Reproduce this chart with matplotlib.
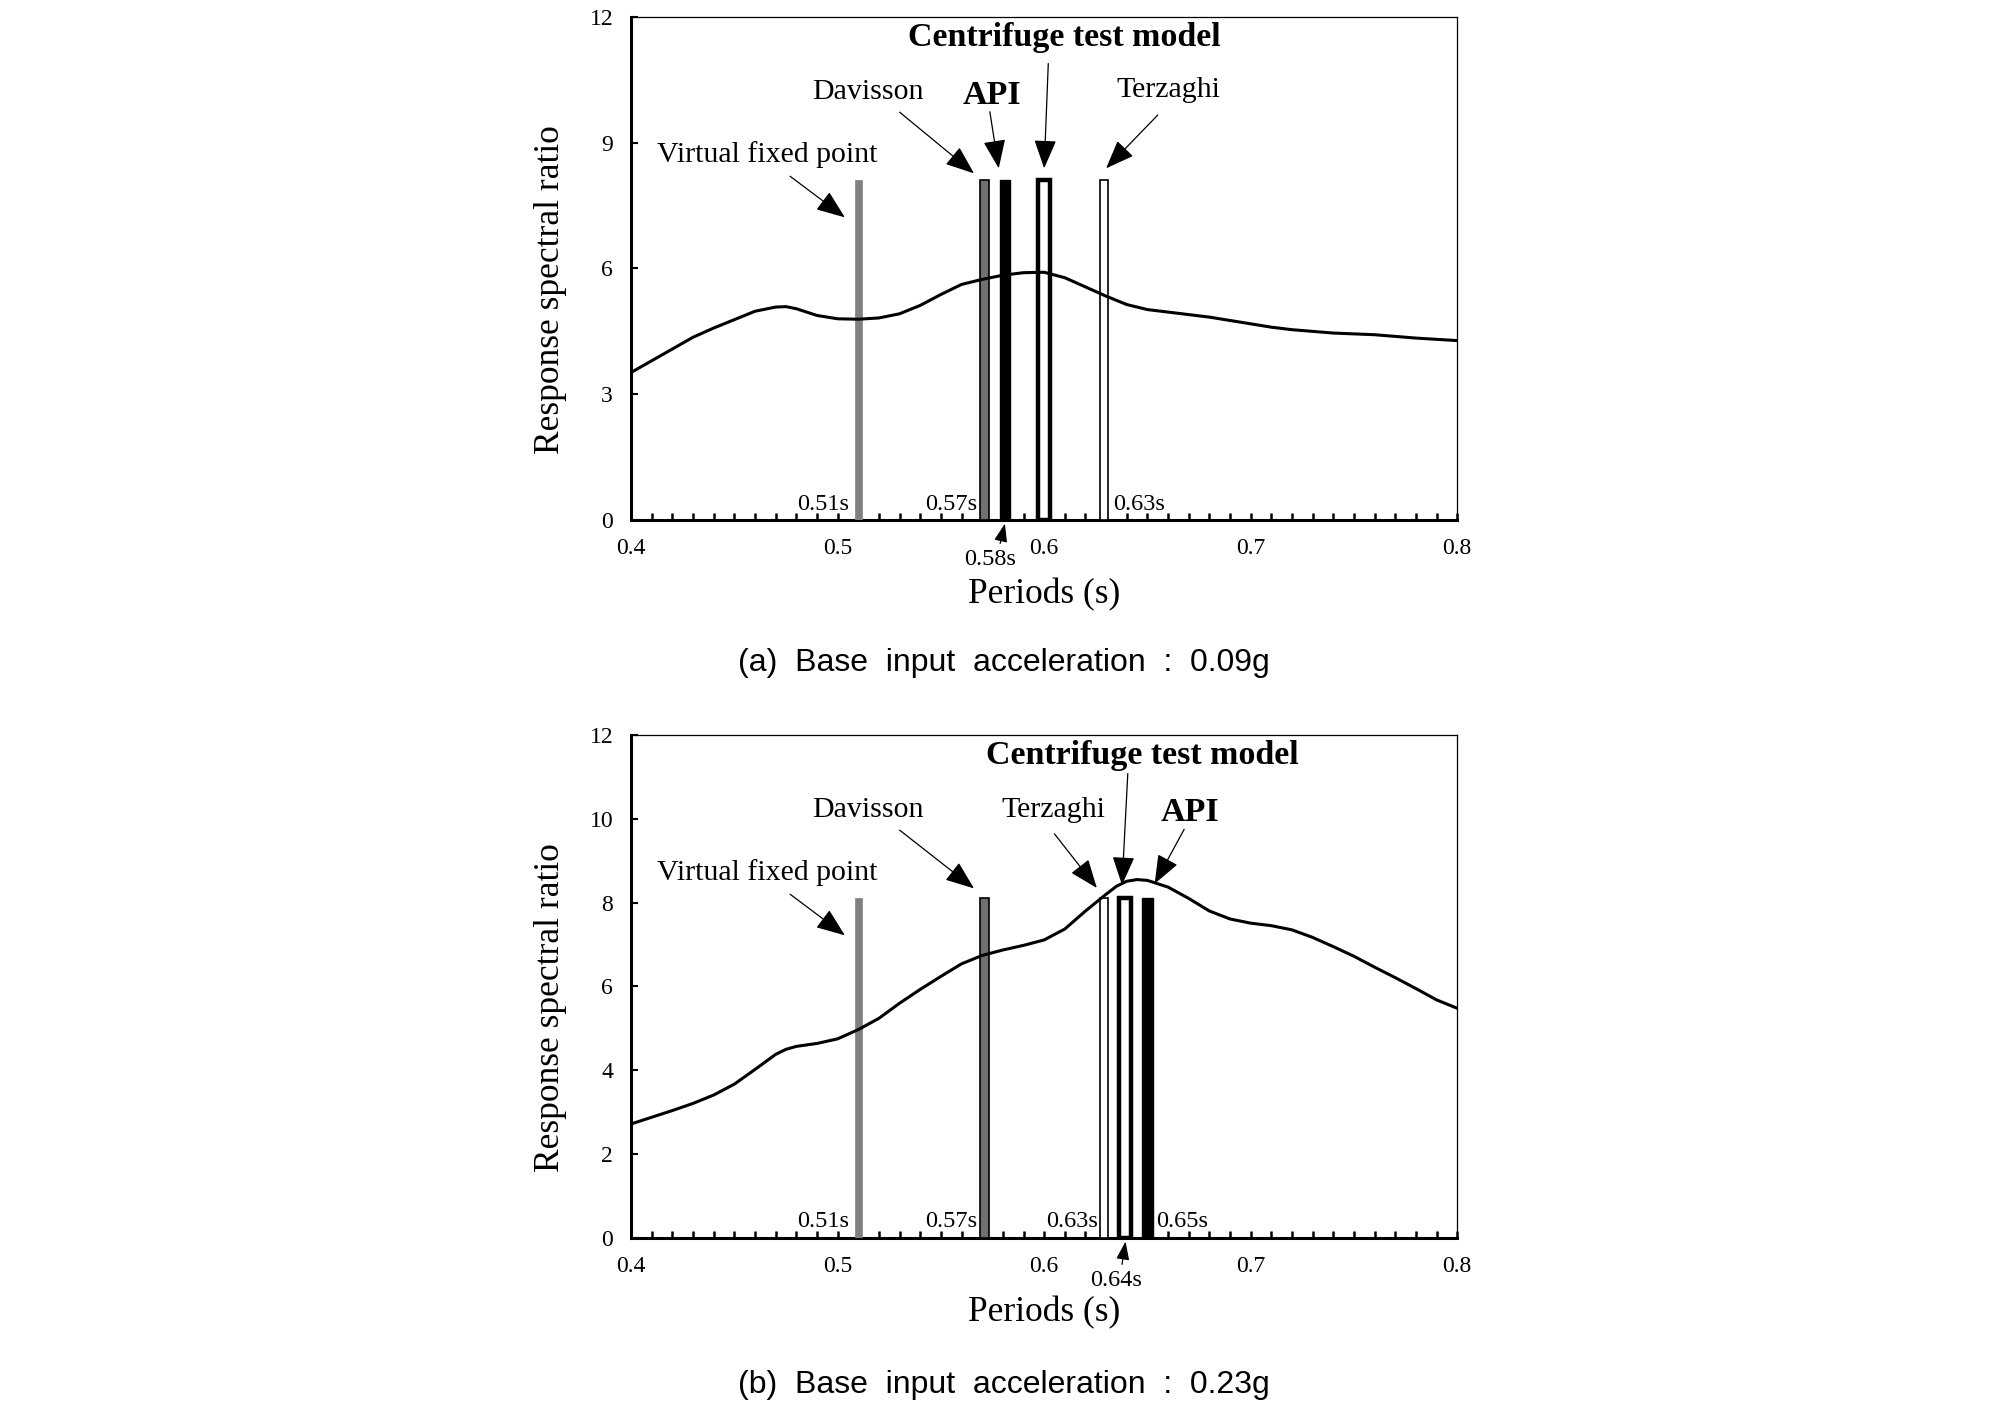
import matplotlib
matplotlib.use("Agg")
import matplotlib.pyplot as plt
from matplotlib.ticker import MultipleLocator, FuncFormatter

plt.rcParams['font.family'] = ['Liberation Serif', 'DejaVu Serif']

# ---- data (a) 0.09g ----
period_a = [0.40, 0.41, 0.42, 0.43, 0.44, 0.45, 0.46, 0.47, 0.475, 0.48, 0.49, 0.50, 0.51,
            0.52, 0.53, 0.54, 0.55, 0.56, 0.57, 0.58, 0.59, 0.60, 0.61, 0.62, 0.63, 0.64,
            0.65, 0.66, 0.67, 0.68, 0.69, 0.70, 0.71, 0.72, 0.73, 0.74, 0.75, 0.76, 0.77,
            0.78, 0.79, 0.80]
ratio_a = [3.52, 3.80, 4.08, 4.36, 4.58, 4.78, 4.98, 5.08, 5.09, 5.04, 4.88, 4.80, 4.79,
           4.82, 4.92, 5.12, 5.38, 5.62, 5.74, 5.84, 5.90, 5.91, 5.78, 5.56, 5.34, 5.14,
           5.02, 4.96, 4.90, 4.84, 4.76, 4.68, 4.60, 4.54, 4.50, 4.46, 4.44, 4.42, 4.38,
           4.34, 4.31, 4.28]
methods_a = ['Virtual fixed point', 'Davisson', 'API', 'Centrifuge test model', 'Terzaghi']
bar_pos_a = [0.510, 0.571, 0.581, 0.600, 0.629]
bar_h_a = [8.1, 8.1, 8.1, 8.1, 8.1]

# ---- data (b) 0.23g ----
period_b = [0.40, 0.41, 0.42, 0.43, 0.44, 0.45, 0.46, 0.47, 0.475, 0.48, 0.49, 0.50, 0.51,
            0.52, 0.53, 0.54, 0.55, 0.56, 0.57, 0.58, 0.59, 0.60, 0.61, 0.62, 0.63, 0.635,
            0.64, 0.645, 0.65, 0.66, 0.67, 0.68, 0.69, 0.70, 0.71, 0.72, 0.73, 0.74, 0.75,
            0.76, 0.77, 0.78, 0.79, 0.80]
ratio_b = [2.72, 2.88, 3.04, 3.21, 3.41, 3.67, 4.02, 4.38, 4.50, 4.57, 4.64, 4.75, 4.97,
           5.24, 5.60, 5.93, 6.24, 6.54, 6.74, 6.87, 6.98, 7.11, 7.37, 7.80, 8.20, 8.39,
           8.51, 8.55, 8.53, 8.37, 8.10, 7.80, 7.61, 7.51, 7.45, 7.35, 7.17, 6.95, 6.72,
           6.46, 6.21, 5.95, 5.68, 5.48]
methods_b = ['Virtual fixed point', 'Davisson', 'Terzaghi', 'Centrifuge test model', 'API']
bar_pos_b = [0.510, 0.571, 0.629, 0.639, 0.650]
bar_h_b = [8.1, 8.1, 8.1, 8.1, 8.1]

# bar labels
labels_a = ['0.51s', '0.57s', '0.58s', '0.63s']
labels_b = ['0.51s', '0.57s', '0.63s', '0.64s', '0.65s']

styles = {
    'Virtual fixed point': dict(width=0.0036, facecolor='#808080', edgecolor='#808080', lw=0.5),
    'Davisson': dict(width=0.0045, facecolor='#707070', edgecolor='black', lw=1.2),
    'API': dict(width=0.0050, facecolor='black', edgecolor='black', lw=1.0),
    'Centrifuge test model': dict(width=0.0058, facecolor='white', edgecolor='black', lw=3.2),
    'Terzaghi': dict(width=0.0040, facecolor='white', edgecolor='black', lw=1.2),
}

fig = plt.figure(figsize=(20.08, 14.05), dpi=100)
ax_a = fig.add_axes([0.3143, 0.6299, 0.4114, 0.358])
ax_b = fig.add_axes([0.3143, 0.1189, 0.4114, 0.358])

TICK_FS = 17
LABEL_FS = 25.5
ANN_FS = 21.5
BOLD_FS = 24.5
BAR_FS = 17.5


def setup(ax, ystep):
    ax.set_xlim(0.4, 0.8)
    ax.set_ylim(0, 12)
    ax.xaxis.set_major_locator(MultipleLocator(0.1))
    ax.xaxis.set_minor_locator(MultipleLocator(0.01))
    ax.yaxis.set_major_locator(MultipleLocator(ystep))
    ax.xaxis.set_major_formatter(FuncFormatter(lambda v, p: f'{v:g}'))
    ax.tick_params(axis='x', which='both', direction='in', length=5, width=1.8,
                   labelsize=TICK_FS, pad=13)
    ax.tick_params(axis='y', which='major', direction='in', length=5, width=1.5,
                   labelsize=TICK_FS, pad=13)
    ax.tick_params(axis='y', which='minor', left=False)
    for s in ['left', 'bottom']:
        ax.spines[s].set_linewidth(2.2)
    for s in ['top', 'right']:
        ax.spines[s].set_linewidth(0.9)
    ax.set_xlabel('Periods (s)', fontsize=LABEL_FS)
    ax.set_ylabel('Response spectral ratio', fontsize=LABEL_FS)
    ax.xaxis.set_label_coords(0.5, -0.149)
    ax.xaxis.label.set_va('center')
    ax.yaxis.set_label_coords(-0.097, 0.458)
    ax.yaxis.label.set_va('center')


def bars(ax, methods, pos, h):
    for m, x, hh in zip(methods, pos, h):
        st = styles[m]
        ax.bar(x, hh, width=st['width'], facecolor=st['facecolor'],
               edgecolor=st['edgecolor'], linewidth=st['lw'], zorder=3)


arrow_kw = dict(arrowstyle='-|>,head_length=0.9,head_width=0.35', color='black',
                lw=0.9, mutation_scale=20, shrinkA=0, shrinkB=0)
small_arrow = dict(arrowstyle='-|>,head_length=0.7,head_width=0.25', color='black',
                   lw=0.9, mutation_scale=16, shrinkA=0, shrinkB=0)


def ann(ax, text, xy, xytext, tpos, bold=False):
    ax.annotate('', xy=xy, xytext=xytext, arrowprops=arrow_kw, zorder=5)
    ax.text(tpos[0], tpos[1], text, ha='center', va='center',
            fontsize=BOLD_FS if bold else ANN_FS,
            fontweight='bold' if bold else 'normal', zorder=5)


def curve(ax, x, y):
    ax.plot(x, y, color='black', lw=2.2, zorder=4, solid_joinstyle='round',
            solid_capstyle='round')


# ---------------- (a) ----------------
setup(ax_a, 3)
bars(ax_a, methods_a, bar_pos_a, bar_h_a)
curve(ax_a, period_a, ratio_a)
ann(ax_a, 'Virtual fixed point', (0.5035, 7.22), (0.477, 8.2), (0.466, 8.73))
ann(ax_a, 'Davisson', (0.566, 8.27), (0.530, 9.73), (0.5147, 10.2))
ann(ax_a, 'API', (0.578, 8.39), (0.5737, 9.74), (0.5745, 10.13), bold=True)
ann(ax_a, 'Centrifuge test model', (0.600, 8.39), (0.602, 10.89), (0.610, 11.5), bold=True)
ann(ax_a, 'Terzaghi', (0.630, 8.39), (0.655, 9.66), (0.660, 10.25))
ax_a.text(0.493, 0.36, labels_a[0], ha='center', va='center', fontsize=BAR_FS)
ax_a.text(0.555, 0.36, labels_a[1], ha='center', va='center', fontsize=BAR_FS)
ax_a.text(0.646, 0.36, labels_a[3], ha='center', va='center', fontsize=BAR_FS)
ax_a.annotate('', xy=(0.581, -0.085), xytext=(0.5787, -0.56), arrowprops=small_arrow,
              annotation_clip=False)
ax_a.text(0.5737, -0.95, labels_a[2], ha='center', va='center', fontsize=BAR_FS, clip_on=False)

# ---------------- (b) ----------------
setup(ax_b, 2)
bars(ax_b, methods_b, bar_pos_b, bar_h_b)
curve(ax_b, period_b, ratio_b)
ann(ax_b, 'Virtual fixed point', (0.5035, 7.22), (0.477, 8.2), (0.466, 8.73))
ann(ax_b, 'Davisson', (0.566, 8.34), (0.530, 9.73), (0.5147, 10.2))
ann(ax_b, 'Terzaghi', (0.6255, 8.35), (0.605, 9.64), (0.6046, 10.2))
ann(ax_b, 'Centrifuge test model', (0.6377, 8.42), (0.6405, 11.08), (0.6477, 11.5), bold=True)
ann(ax_b, 'API', (0.6535, 8.45), (0.6678, 9.75), (0.6706, 10.15), bold=True)
ax_b.text(0.493, 0.4, labels_b[0], ha='center', va='center', fontsize=BAR_FS)
ax_b.text(0.555, 0.4, labels_b[1], ha='center', va='center', fontsize=BAR_FS)
ax_b.text(0.6135, 0.4, labels_b[2], ha='center', va='center', fontsize=BAR_FS)
ax_b.text(0.667, 0.4, labels_b[4], ha='center', va='center', fontsize=BAR_FS)
ax_b.annotate('', xy=(0.6394, -0.085), xytext=(0.6377, -0.63), arrowprops=small_arrow,
              annotation_clip=False)
ax_b.text(0.635, -1.02, labels_b[3], ha='center', va='center', fontsize=BAR_FS, clip_on=False)

# captions
cap_font = ['Liberation Sans', 'DejaVu Sans']
fig.text(1004 / 2008, 1 - 663 / 1405, '(a)  Base  input  acceleration  :  0.09g',
         ha='center', va='center', fontsize=23, family=cap_font)
fig.text(1004 / 2008, 1 - 1385 / 1405, '(b)  Base  input  acceleration  :  0.23g',
         ha='center', va='center', fontsize=23, family=cap_font)

fig.savefig('out.png', dpi=100)
